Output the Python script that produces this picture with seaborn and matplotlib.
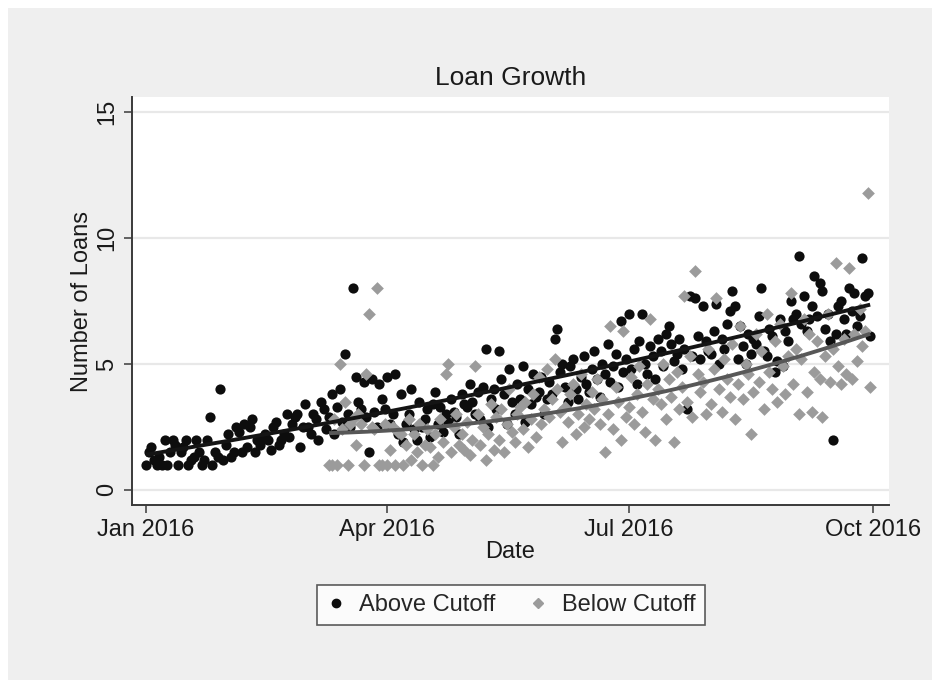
import numpy as np
import pandas as pd
import matplotlib
matplotlib.use('Agg')
import matplotlib.pyplot as plt
import matplotlib.dates as mdates
from matplotlib.lines import Line2D
from matplotlib.patches import Rectangle
import seaborn as sns

sns.set_style('white')
plt.rcParams['font.family'] = ['Liberation Sans', 'DejaVu Sans']

# daily values (day 0 = 1 Jan 2016)
above_start = '2016-01-01'
above_values = [
    # Jan
    1.0, 1.5, 1.7, 1.2, 1.0, 1.3, 1.0, 2.0, 1.0, 1.5, 2.0, 1.8, 1.0, 1.5, 1.7, 2.0,
    1.0, 1.2, 1.3, 2.0, 1.5, 1.0, 1.2, 2.0, 2.9, 1.0, 1.5, 1.3, 4.0, 1.2, 1.8,
    # Feb
    2.2, 1.3, 1.5, 2.5, 2.3, 1.5, 2.6, 1.7, 2.5, 2.8, 1.5, 2.0, 1.8, 2.1, 2.2,
    2.0, 1.6, 2.5, 2.7, 1.8, 2.0, 2.2, 3.0, 2.1, 2.6, 2.9, 3.0, 1.7, 2.5,
    # Mar
    3.4, 2.5, 2.2, 3.0, 2.8, 2.0, 3.5, 3.2, 2.4, 2.9, 3.8, 2.2, 3.3, 4.0, 2.7, 5.4,
    3.0, 2.5, 8.0, 4.5, 3.5, 3.2, 4.3, 2.9, 1.5, 4.4, 3.1, 2.5, 4.2, 3.6, 3.2,
    # Apr
    4.5, 2.6, 3.0, 4.6, 2.2, 3.8, 1.9, 2.6, 3.0, 4.0, 2.4, 2.0, 3.5, 2.5, 2.8,
    3.2, 2.1, 3.4, 3.9, 2.6, 3.3, 2.3, 3.0, 2.7, 3.6, 3.1, 2.9, 2.2, 3.8, 3.4,
    # May
    3.3, 4.2, 3.5, 3.0, 3.9, 2.8, 4.1, 5.6, 2.5, 3.6, 4.0, 3.2, 5.5, 4.4, 3.8, 2.6,
    4.8, 3.5, 3.0, 4.2, 3.6, 4.9, 2.7, 4.0, 3.4, 4.6, 3.7, 3.9, 4.5, 3.0, 3.6,
    # Jun
    4.3, 3.8, 6.0, 6.4, 4.7, 5.0, 4.1, 3.5, 4.9, 5.2, 4.0, 3.6, 4.5, 5.3, 4.2,
    3.9, 4.8, 5.5, 4.4, 3.7, 5.0, 4.6, 5.8, 4.3, 4.9, 5.4, 4.1, 6.7, 4.7, 5.2,
    # Jul
    7.0, 4.8, 5.6, 4.2, 5.9, 7.0, 5.0, 4.6, 5.7, 5.3, 4.4, 6.0, 5.5, 4.9, 6.2, 6.5,
    5.8, 5.1, 5.4, 6.0, 4.8, 5.6, 3.2, 7.7, 5.3, 7.6, 6.1, 5.2, 7.3, 5.9, 5.5,
    # Aug
    5.4, 6.3, 7.4, 5.0, 6.0, 5.6, 6.6, 7.1, 7.9, 7.3, 5.2, 6.5, 5.7, 5.0, 6.2, 5.4,
    6.0, 5.8, 6.9, 8.0, 5.5, 5.3, 6.4, 6.1, 4.7, 5.1, 6.8, 4.9, 6.3, 5.9, 7.5,
    # Sep
    6.8, 7.0, 9.3, 6.6, 7.7, 6.3, 6.8, 7.3, 8.5, 6.9, 8.2, 7.9, 6.4, 7.0, 5.9,
    2.0, 6.2, 7.3, 7.5, 6.8, 6.2, 8.0, 7.1, 7.8, 6.5, 6.9, 9.2, 7.7, 7.8, 6.1,
]

below_start = '2016-03-10'
below_values = [
    1.0, 1.0, 2.8, 1.0, 5.0, 2.4, 3.5, 1.0, 2.6, 2.8, 1.8, 3.0, 2.6, 1.0, 4.6, 7.0,
    2.5, 2.4, 8.0, 1.0, 1.0, 2.6,
    # Apr
    1.0, 1.6, 2.5, 1.0, 2.3, 2.2, 1.0, 1.8, 2.8, 1.2, 2.2, 1.5, 2.6, 1.0, 1.8,
    2.4, 1.7, 1.0, 2.2, 1.3, 2.8, 1.9, 4.6, 5.0, 1.5, 2.5, 3.0, 1.8, 2.2, 1.6,
    # May
    2.7, 1.4, 2.0, 4.9, 3.0, 1.8, 2.5, 1.2, 2.2, 3.4, 1.6, 2.9, 2.0, 3.2, 1.5, 2.6,
    4.0, 2.3, 1.9, 3.0, 3.3, 2.4, 3.5, 1.7, 2.8, 3.8, 2.1, 4.5, 2.6, 3.2, 4.8,
    # Jun
    2.9, 3.6, 5.2, 4.0, 3.1, 1.9, 3.3, 2.7, 3.8, 4.2, 2.2, 3.0, 4.6, 2.5, 3.4,
    2.8, 3.9, 3.2, 4.4, 2.6, 3.6, 1.5, 3.0, 6.5, 2.4, 4.1, 3.5, 2.0, 6.3, 2.9,
    # Jul
    3.3, 4.5, 2.6, 3.8, 4.9, 3.1, 2.3, 4.2, 6.8, 3.6, 2.0, 4.0, 3.4, 5.0, 2.8, 4.4,
    3.7, 1.9, 4.7, 3.2, 4.1, 7.7, 3.5, 5.3, 2.9, 8.7, 4.6, 3.9, 4.3, 3.0, 5.6,
    # Aug
    3.4, 4.8, 7.6, 4.0, 3.1, 5.2, 4.4, 3.7, 5.8, 2.8, 4.2, 6.5, 3.6, 5.0, 4.6, 2.2,
    3.9, 6.2, 4.3, 5.5, 3.2, 7.0, 4.7, 4.0, 5.9, 3.5, 6.6, 4.9, 3.8, 5.3, 7.8,
    # Sep
    4.2, 5.6, 3.0, 5.2, 6.8, 3.9, 6.2, 3.1, 4.7, 5.9, 4.4, 2.9, 5.3, 7.0, 4.3,
    5.6, 9.0, 4.9, 4.2, 6.0, 4.6, 8.8, 4.4, 6.2, 5.1, 7.2, 5.7, 6.3, 11.8, 4.1,
]

groups = ['Above Cutoff', 'Below Cutoff']
tick_dates = ['2016-01-01', '2016-04-01', '2016-07-01', '2016-10-01']
y_ticks = [0, 5, 10, 15]

above = pd.DataFrame({'Date': pd.date_range(above_start, periods=len(above_values)),
                      'Loans': above_values, 'Group': groups[0]})
below = pd.DataFrame({'Date': pd.date_range(below_start, periods=len(below_values)),
                      'Loans': below_values, 'Group': groups[1]})
df = pd.concat([above, below], ignore_index=True)

pt_col = {'Above Cutoff': '#0d0d0d', 'Below Cutoff': '#9b9b9b'}
fit_col = {'Above Cutoff': '#141414', 'Below Cutoff': '#575757'}
marks = {'Above Cutoff': 'o', 'Below Cutoff': 'D'}
sizes = {'Above Cutoff': 54, 'Below Cutoff': 42}

fig = plt.figure(figsize=(9.32, 6.8), dpi=100)
fig.patch.set_facecolor('white')
fig.patches.append(Rectangle((8 / 932, 0), 1, 1 - 8 / 680, transform=fig.transFigure,
                             facecolor='#efefef', edgecolor='none', zorder=-10))

ax = fig.add_axes([132 / 932, 1 - 505 / 680, 757 / 932, 408 / 680])
ax.set_facecolor('white')

for g in groups:
    sub = df[df['Group'] == g]
    sns.scatterplot(data=sub, x='Date', y='Loans', color=pt_col[g], marker=marks[g],
                    s=sizes[g], linewidth=0, ax=ax, zorder=3, legend=False)

# quadratic fit for each group (like qfit)
for g in groups:
    sub = df[df['Group'] == g]
    xn = mdates.date2num(sub['Date'])
    coef = np.polyfit(xn, sub['Loans'], 2)
    xs = np.linspace(xn.min(), xn.max(), 200)
    ax.plot(mdates.num2date(xs), np.polyval(coef, xs), color=fit_col[g], lw=2.8,
            zorder=4, solid_capstyle='butt')

t0 = mdates.date2num(pd.Timestamp('2016-01-01'))
ax.set_xlim(t0 - 5.3, t0 + 280.1)
ax.set_ylim(-0.6, 15.6)
ax.set_xticks([pd.Timestamp(d) for d in tick_dates])
ax.xaxis.set_major_formatter(mdates.DateFormatter('%b %Y'))
ax.set_yticks(y_ticks)
ax.set_yticklabels([str(v) for v in y_ticks], rotation=90, va='center')
for v in y_ticks:
    ax.axhline(v, color='#e8e8e8', lw=1.6, zorder=1)

for side in ['top', 'right']:
    ax.spines[side].set_visible(False)
for side in ['left', 'bottom']:
    ax.spines[side].set_color('#3a3a3a')
    ax.spines[side].set_linewidth(1.4)
ax.tick_params(axis='both', direction='out', length=6, width=1.1, color='#3a3a3a',
               labelsize=17, labelcolor='#1a1a1a', pad=4)
ax.tick_params(axis='x', bottom=True)
ax.tick_params(axis='y', left=True)

ax.set_xlabel('Date', fontsize=17, color='#1a1a1a', labelpad=0)
ax.set_ylabel('Number of Loans', fontsize=17, color='#1a1a1a', labelpad=2)
fig.text(511 / 932, 1 - 78 / 680, 'Loan Growth', ha='center', va='center',
         fontsize=19, color='#1a1a1a')

handles = [Line2D([], [], ls='none', marker='o', color=pt_col[groups[0]], markersize=6),
           Line2D([], [], ls='none', marker='D', color=pt_col[groups[1]], markersize=5.5)]
leg = fig.legend(handles, groups, loc='center', bbox_to_anchor=(511 / 932, 1 - 605 / 680),
                 ncol=2, frameon=True, fancybox=False, fontsize=17, handlelength=0.8,
                 handletextpad=0.6, columnspacing=1.4, borderpad=0.4)
leg.get_frame().set_edgecolor('#333333')
leg.get_frame().set_linewidth(1.2)
leg.get_frame().set_facecolor('white')

fig.savefig('out.png', dpi=100, facecolor=fig.get_facecolor())
